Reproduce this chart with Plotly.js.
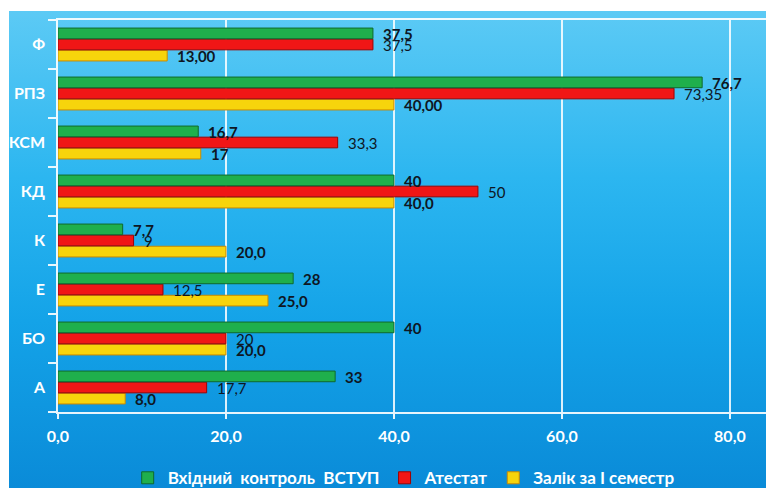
<!DOCTYPE html>
<html>
<head>
<meta charset="utf-8">
<script src="https://cdn.plot.ly/plotly-3.0.1.min.js"></script>
<style>
  html, body { margin: 0; padding: 0; background: #ffffff; }
  #wrap { position: relative; width: 766px; height: 488px; overflow: hidden; }
  #panel { position: absolute; left: 9px; top: 11px; right: 0; bottom: 0;
           background: linear-gradient(to bottom, #5ccaf5 0%, #2cb6f0 35%, #14a3e8 65%, #0a8bd8 100%); }
  #chart { position: absolute; left: 0; top: 0; width: 766px; height: 488px; }
  #mask { position: absolute; left: 0; top: 0; width: 9px; height: 488px; background: #ffffff; }
</style>
</head>
<body>
<div id="wrap">
  <div id="panel"></div>
  <div id="chart"></div>
  <div id="mask"></div>
</div>
<script>
// ---- data ----
const categories = ['А', 'БО', 'Е', 'К', 'КД', 'КСМ', 'РПЗ', 'Ф'];
const seriesNames = ['Вхідний\u00a0 контроль\u00a0 ВСТУП', 'Атестат', 'Залік за І семестр'];
const vstupValues  = [33, 40, 28, 7.7, 40, 16.7, 76.7, 37.5];
const vstupLabels  = ['33', '40', '28', '7,7', '40', '16,7', '76,7', '37,5'];
const atestatValues = [17.7, 20, 12.5, 9, 50, 33.3, 73.35, 37.5];
const atestatLabels = ['17,7', '20', '12,5', '9', '50', '33,3', '73,35', '37,5'];
const zalikValues  = [8.0, 20.0, 25.0, 20.0, 40.0, 17, 40.00, 13.00];
const zalikLabels  = ['8,0', '20,0', '25,0', '20,0', '40,0', '17', '40,00', '13,00'];
const xTickValues = [0, 20, 40, 60, 80];
const xTickLabels = ['0,0', '20,0', '40,0', '60,0', '80,0'];

// ---- styles ----
const FONT = 'Lato, "Noto Sans", "Open Sans", sans-serif';
const seriesStyles = [
  {fill: '#1faf4c', line: '#0f6a2c', bold: true,  shift: 11},
  {fill: '#f01616', line: '#a00000', bold: false, shift: 0},
  {fill: '#f7d40c', line: '#c98a00', bold: true,  shift: -11}
];
const seriesValues = [vstupValues, atestatValues, zalikValues];
const seriesLabels = [vstupLabels, atestatLabels, zalikLabels];

// plotly draws first trace at the bottom of a group -> add in reverse
const traces = [];
for (let i = 2; i >= 0; i--) {
  traces.push({
    type: 'bar',
    orientation: 'h',
    name: seriesNames[i],
    y: categories,
    x: seriesValues[i],
    marker: {color: seriesStyles[i].fill, line: {color: seriesStyles[i].line, width: 1}},
    hoverinfo: 'x+y+name'
  });
}

const annotations = [];
for (let i = 0; i < 3; i++) {
  for (let j = 0; j < categories.length; j++) {
    annotations.push({
      x: seriesValues[i][j], y: categories[j], xref: 'x', yref: 'y',
      text: seriesStyles[i].bold ? '<b>' + seriesLabels[i][j] + '</b>' : seriesLabels[i][j],
      showarrow: false, xanchor: 'left', yanchor: 'middle',
      xshift: 8, yshift: seriesStyles[i].shift,
      font: {family: FONT, size: 15, color: '#0e1623'}
    });
  }
}

const layout = {
  width: 766, height: 488,
  margin: {l: 58, r: 0, t: 20, b: 76, pad: 0},
  paper_bgcolor: 'rgba(0,0,0,0)',
  plot_bgcolor: 'rgba(0,0,0,0)',
  barmode: 'group',
  bargap: 0.32,
  bargroupgap: 0.04,
  showlegend: true,
  legend: {
    orientation: 'h', traceorder: 'reversed',
    xref: 'container', yref: 'container',
    x: 0.527, xanchor: 'center', y: 0.02, yanchor: 'middle',
    font: {family: FONT, size: 17, color: '#ffffff', weight: 'bold'},
    bgcolor: 'rgba(0,0,0,0)', itemwidth: 30
  },
  xaxis: {
    range: [0, 84.3],
    tickvals: xTickValues, ticktext: xTickLabels,
    showgrid: true, gridcolor: 'rgba(255,255,255,0.85)', gridwidth: 1.5,
    showline: true, linecolor: 'rgba(255,255,255,0.9)', linewidth: 1.5, mirror: true,
    ticks: 'outside', ticklen: 5, tickcolor: 'rgba(255,255,255,0.9)', tickwidth: 1.5,
    ticklabelstandoff: 4,
    tickfont: {family: FONT, size: 16, color: '#ffffff', weight: 'bold'},
    zeroline: false, fixedrange: true
  },
  yaxis: {
    type: 'category', categoryorder: 'array', categoryarray: categories,
    showgrid: false,
    showline: true, linecolor: 'rgba(255,255,255,0.9)', linewidth: 1.5,
    ticks: 'outside', ticklen: 8, tickcolor: 'rgba(255,255,255,0.9)', tickwidth: 1.5,
    tickson: 'boundaries',
    ticklabelstandoff: 8,
    tickfont: {family: FONT, size: 16, color: '#ffffff', weight: 'bold'},
    fixedrange: true
  },
  annotations: annotations
};

Plotly.newPlot('chart', traces, layout, {displayModeBar: false, staticPlot: false});
</script>
</body>
</html>
